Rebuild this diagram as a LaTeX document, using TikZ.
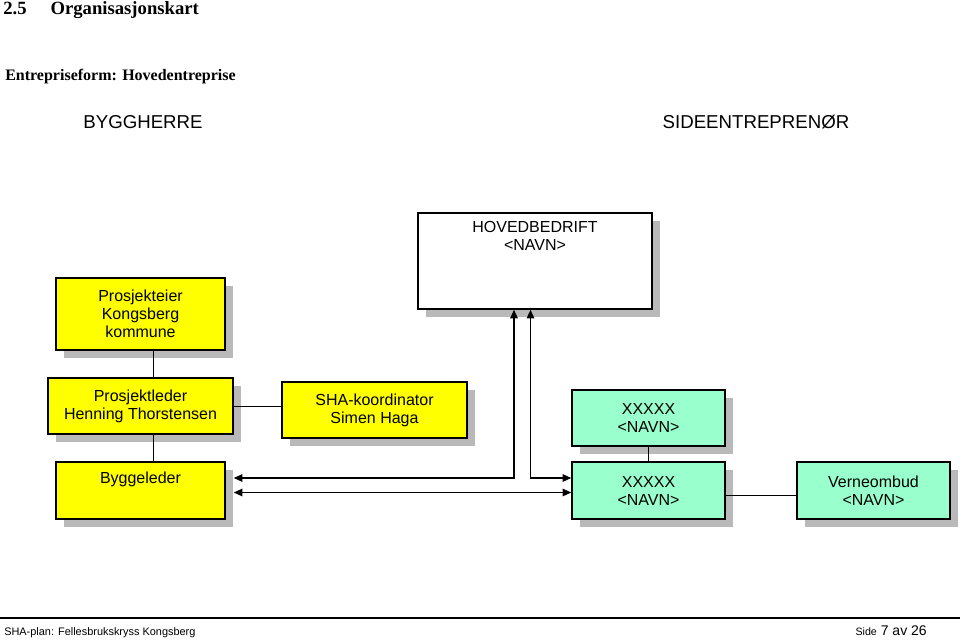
\documentclass[tikz,border=0pt]{standalone}
\usepackage{fontspec}
\setmainfont{Liberation Serif}
\setsansfont{Liberation Sans}
\usetikzlibrary{arrows.meta,shadows}
\definecolor{boxyellow}{RGB}{255,255,0}
\definecolor{boxgreen}{RGB}{153,255,204}
\definecolor{shadowgray}{RGB}{185,185,185}

\begin{document}
\begin{tikzpicture}[x=0.75pt,y=-0.75pt,
	box/.style={draw,line width=1pt,rectangle,inner sep=0pt,align=center,
		font=\sffamily\fontsize{12}{13.5}\selectfont,
		general shadow={fill=shadowgray,shadow xshift=6pt,shadow yshift=-6pt}},
	yellowbox/.style={box,fill=boxyellow},
	greenbox/.style={box,fill=boxgreen},
	whitebox/.style={box,fill=white},
	topline/.style={anchor=north,inner sep=0pt,align=center,
		font=\sffamily\fontsize{12}{13.5}\selectfont},
	link/.style={line width=0.6pt},
	arrowline/.style={line width=1.3pt,
		{Triangle[length=6.5pt,width=5.5pt]}-{Triangle[length=6.5pt,width=5.5pt]}}]
			%%Location
			\useasboundingbox (0,0) rectangle (960,640);
			%%Heading
			\node[anchor=west,inner sep=0pt,font=\bfseries\fontsize{14}{16}\selectfont] (title) at (3,10) {2.5\hspace{18pt}Organisasjonskart};
			\node[anchor=west,inner sep=0pt,font=\bfseries\fontsize{12}{14}\selectfont] (form) at (5,77) {Entrepriseform: Hovedentreprise};
			\node[font=\sffamily\fontsize{14}{16}\selectfont] (byggherre) at (143,122) {BYGGHERRE};
			\node[font=\sffamily\fontsize{14}{16}\selectfont] (sideentr) at (756,122) {SIDEENTREPRENØR};
			
			%%Boxes
			\node[whitebox,minimum width=175.5pt,minimum height=72pt,
				label={[topline,yshift=-6.75pt]north:HOVEDBEDRIFT\\<NAVN>}] (hoved) at (535,261) {};
			\node[yellowbox,minimum width=126.75pt,minimum height=54pt] (eier) at (140.5,314) {Prosjekteier\\Kongsberg\\kommune};
			\node[yellowbox,minimum width=138.75pt,minimum height=42pt] (leder) at (140.5,406) {Prosjektleder\\Henning Thorstensen};
			\node[yellowbox,minimum width=138.75pt,minimum height=42pt] (sha) at (374.5,410) {SHA-koordinator\\Simen Haga};
			\node[greenbox,minimum width=114.75pt,minimum height=42pt] (xx1) at (648.5,418) {XXXXX\\<NAVN>};
			\node[yellowbox,minimum width=126.75pt,minimum height=42.75pt,
				label={[topline,yshift=-7.5pt]north:Byggeleder}] (bygg) at (140.5,490.5) {};
			\node[greenbox,minimum width=114.75pt,minimum height=42.75pt] (xx2) at (648.5,490.5) {XXXXX\\<NAVN>};
			\node[greenbox,minimum width=114.75pt,minimum height=42.75pt] (verne) at (873.5,490.5) {Verneombud\\<NAVN>};
			
			%%Lines
			\coordinate (stem) at (153,0);
			\coordinate (row) at (0,495);
			\draw[link] (eier.south -| stem) -- (leder.north -| stem);
			\draw[link] (leder.south -| stem) -- (bygg.north -| stem);
			\draw[link] (leder.east) -- (leder.east -| sha.west);
			\draw[link] (xx1.south) -- (xx2.north);
			\draw[link] (xx2.east |- row) -- (verne.west |- row);
			
			%%Arrows
			\coordinate (upA) at (514,0);
			\coordinate (upB) at (530.5,0);
			\coordinate (rowA) at (0,478);
			\coordinate (rowB) at (0,492.5);
			\coordinate (byggedge) at ([xshift=6pt]bygg.east);
			\draw[arrowline] (byggedge |- rowA) -| (hoved.south -| upA);
			\draw[arrowline] (xx2.west |- rowA) -| (hoved.south -| upB);
			\draw[arrowline] (byggedge |- rowB) -- (xx2.west |- rowB);
			
			%%Footer
			\coordinate (footL) at (0,618);
			\coordinate (footR) at (960,618);
			\draw[line width=1.4pt] (footL) -- (footR);
			\node[anchor=base west,inner sep=0pt,font=\sffamily\fontsize{8.2}{9}\selectfont] (plan) at (4,635) {SHA-plan: Fellesbrukskryss Kongsberg};
			\node[anchor=base east,inner sep=0pt,font=\sffamily\fontsize{10.5}{12}\selectfont] (page) at (927,635) {{\fontsize{8}{9}\selectfont Side} 7 av 26};
			\end{tikzpicture}
\end{document}
